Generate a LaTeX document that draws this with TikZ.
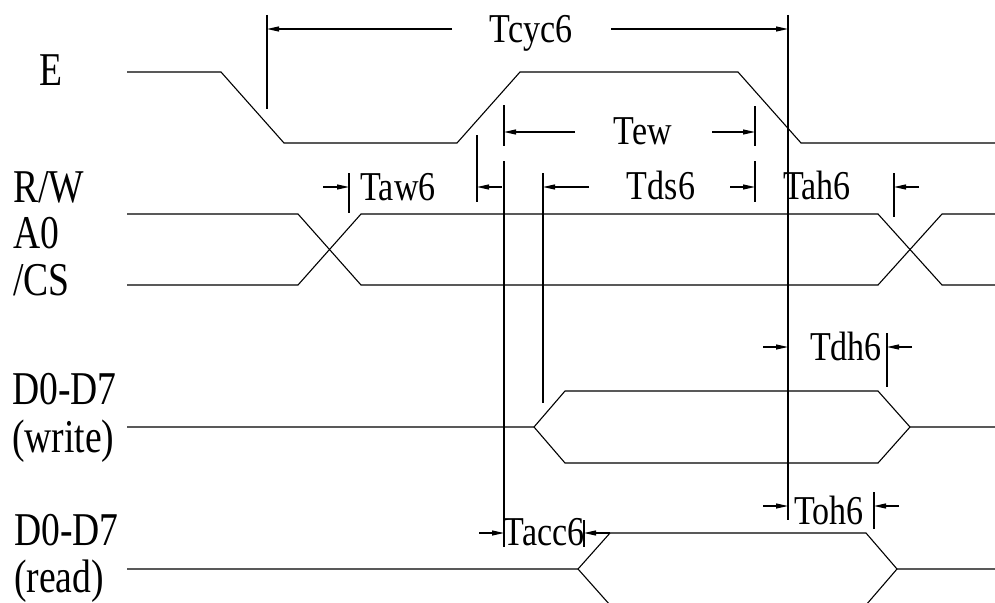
\documentclass[tikz,border=0pt]{standalone}
\usepackage{fontspec}
\setmainfont{Liberation Serif}[FakeStretch=0.80]
\newfontfamily\timfont{Liberation Serif}[FakeStretch=0.83]
\usetikzlibrary{arrows.meta}
\begin{document}
\begin{tikzpicture}[x=1pt,y=-1pt,
  wave/.style={line width=1.1pt, line join=miter},
  dim/.style={line width=1.1pt},
  arr/.style={line width=1.1pt,-{Triangle[length=12pt,width=5pt]}},
  sig/.style={font=\fontsize{47}{54}\selectfont, anchor=base west, inner sep=0pt},
  tl/.style={font=\timfont\fontsize{41}{48}\selectfont, anchor=base, inner sep=0pt}]
\useasboundingbox (0,0) rectangle (995,602);
\clip (0,0) rectangle (995,602);
% signal labels
\node[sig] (lE)  at (39,85)  {E};
\node[sig] (lRW) at (13,202) {R/W};
\node[sig] (lA0) at (13,248) {A0};
\node[sig] (lCS) at (13,295) {/CS};
\node[sig] (lDw) at (12,404) {D0-D7};
\node[sig] (lW)  at (12,452) {(write)};
\node[sig] (lDr) at (14,545) {D0-D7};
\node[sig] (lR)  at (14,592) {(read)};
% waveforms
\draw[wave] (127,72) -- (221,72) -- (284,143) -- (457,143) -- (520,72) -- (738,72) -- (801,143) -- (995,143);
\draw[wave] (127,214) -- (298,214) -- (361,285) -- (878,285) -- (942,214) -- (995,214);
\draw[wave] (127,285) -- (298,285) -- (361,214) -- (878,214) -- (942,285) -- (995,285);
\draw[wave] (127,427) -- (534,427) -- (565,391) -- (878,391) -- (910,427) -- (995,427);
\draw[wave] (534,427) -- (565,463) -- (878,463) -- (910,427);
\draw[wave] (127,569) -- (578,569) -- (610,533) -- (866,533) -- (897,569) -- (995,569);
\draw[wave] (578,569) -- (610,605) -- (866,605) -- (897,569);
% extension lines
\draw[dim] (267,15) -- (267,109);
\draw[dim] (788,15) -- (788,520);
\draw[dim] (504,105) -- (504,146);
\draw[dim] (755,106) -- (755,146);
\draw[dim] (755,161) -- (755,202);
\draw[dim] (477,135) -- (477,202);
\draw[dim] (349,173) -- (349,213);
\draw[dim] (504,161) -- (504,547);
\draw[dim] (543,173) -- (543,403);
\draw[dim] (894,173) -- (894,217);
\draw[dim] (887,333) -- (887,387);
\draw[dim] (874,492) -- (874,529);
\draw[dim] (584,520) -- (584,547);
% arrows
\draw[arr] (452,29) -- (267,29);
\draw[arr] (611,29) -- (788,29);
\draw[arr] (575,132) -- (504,132);
\draw[arr] (712,132) -- (755,132);
\draw[arr] (323,187) -- (349,187);
\draw[arr] (502,187) -- (477,187);
\draw[arr] (589,187) -- (543,187);
\draw[arr] (730,187) -- (755,187);
\draw[arr] (919,187) -- (894,187);
\draw[arr] (763,347) -- (788,347);
\draw[arr] (912,347) -- (887,347);
\draw[arr] (763,506) -- (788,506);
\draw[arr] (899,506) -- (874,506);
\draw[arr] (479,533) -- (504,533);
\draw[arr] (610,533) -- (584,533);
% timing labels
\node[tl] (tcyc) at (531,43)  {Tcyc6};
\node[tl] (tew)  at (643,144) {Tew};
\node[tl] (taw)  at (398,200) {Taw6};
\node[tl] (tds)  at (661,199) {Tds6};
\node[tl] (tah)  at (817,199) {Tah6};
\node[tl] (tdh)  at (846,360) {Tdh6};
\node[tl] (toh)  at (829,524) {Toh6};
\node[tl] (tacc) at (544,545) {Tacc6};
\end{tikzpicture}
\end{document}
